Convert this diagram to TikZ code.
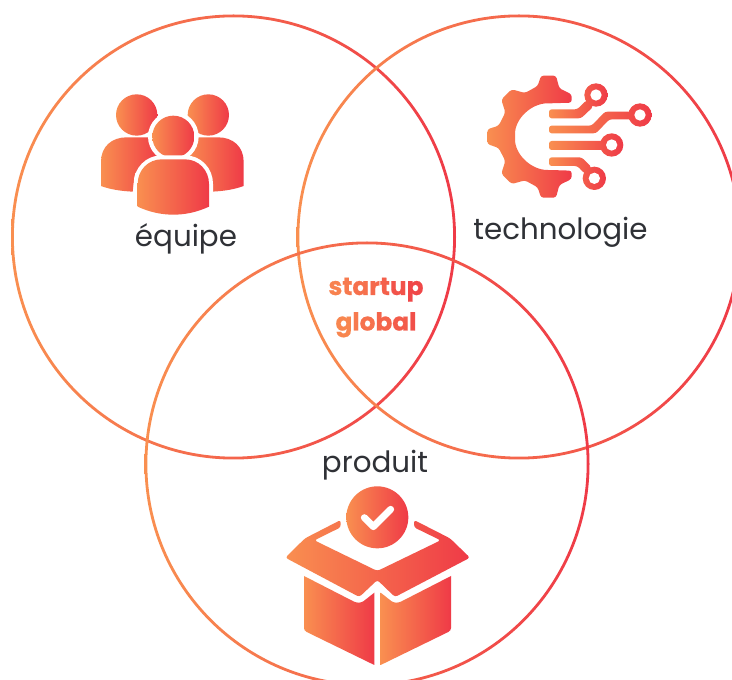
\documentclass[tikz,border=0pt]{standalone}
\usepackage{fontspec}
\setmainfont{Poppins}
\newfontfamily\corefont[BoldFeatures={FakeBold=0.7}]{Poppins}
\definecolor{cO}{HTML}{F98F50}
\definecolor{cR}{HTML}{EF3A47}
\definecolor{cT}{HTML}{2F3136}
\tikzset{
  gr/.style={left color=cO,right color=cR,draw=none},
  lab/.style={anchor=base,text=cT,font=\fontsize{22}{26}\selectfont},
  halo/.style={fill=white,draw=white,line width=6pt,line join=round},
  core/.style={anchor=base,font=\fontsize{18.6}{20}\corefont\bfseries\selectfont}
}
\newcommand{\lc}[2]{\textcolor{cR!#1!cO}{#2}}
\begin{document}
\begin{tikzpicture}[x=0.75pt,y=-0.75pt]
\useasboundingbox (0,0) rectangle (732,680);
\fill[white] (0,0) rectangle (732,680);
% Venn circles
\coordinate (ca) at (233.5,237);
\coordinate (cb) at (519,237);
\coordinate (cc) at (367,464);
\path[gr,even odd rule] (ca) circle (222.5) (ca) circle (219.7);
\path[gr,even odd rule] (cb) circle (222.5) (cb) circle (219.7);
\path[gr,even odd rule] (cc) circle (222.5) (cc) circle (219.7);
% People
\begin{scope}[shift={(80,80)},scale=1/3]
\path[gr] (170,105) circle (62);
\path[gr] (385,105) circle (62);
\path[gr] (63,318) -- (63,245) .. controls (63,200) and (95,172) .. (140,172) -- (212,172) -- (240,240) -- (165,280) -- (158,335) .. controls (120,333) and (90,328) .. (63,318) -- cycle;
\path[gr] (491,318) -- (491,245) .. controls (491,200) and (459,172) .. (414,172) -- (342,172) -- (314,240) -- (389,280) -- (396,335) .. controls (434,333) and (464,328) .. (491,318) -- cycle;
\fill[white] (280,170) circle (76);
\path[gr] (280,170) circle (63);
\def\bodyC{(173,380) -- (173,312) .. controls (173,270) and (205,238) .. (245,238) -- (315,238) .. controls (355,238) and (387,270) .. (387,312) -- (387,380) .. controls (350,397) and (315,404) .. (280,404) .. controls (245,404) and (210,397) .. (173,380) -- cycle}
\path[halo] \bodyC;
\path[gr] \bodyC;
\end{scope}
% Gear
\begin{scope}[shift={(470,60)},scale=1/3]
\path[gr,rounded corners=2pt] (305,128) -- (305,103) -- (268,85) -- (258,47) -- (213,47) -- (203,78) -- (165,99) -- (125,88) -- (94,119) -- (106,157) -- (86,197) -- (52,208) -- (52,252) -- (86,264) -- (106,303) -- (94,341) -- (125,372) -- (165,361) -- (203,382) -- (213,413) -- (258,413) -- (268,375) -- (305,357) -- (305,332) -- (240,330) .. controls (185,330) and (135,285) .. (135,230) .. controls (135,175) and (185,130) .. (240,130) -- cycle;
% traces
\begin{scope}
\clip[rounded corners=2pt] (237,148) -- (322,148) -- (350,120) -- (370,140) -- (333,175) -- (237,175) -- cycle [sharp corners] (378,105) circle (35);
\path[gr] (237,70) rectangle (413,175);
\end{scope}
\fill[white] (378,105) circle (17);
\begin{scope}
\clip[rounded corners=2pt] (237,197) -- (365,197) -- (405,155) -- (490,155) -- (490,178) -- (418,178) -- (378,220) -- (237,220) -- cycle [sharp corners] (510,165) circle (35);
\path[gr] (237,130) rectangle (545,220);
\end{scope}
\fill[white] (510,165) circle (17);
\begin{scope}
\clip[rounded corners=2pt] (237,243) -- (405,243) -- (405,270) -- (237,270) -- cycle [sharp corners] (425,255) circle (35);
\path[gr] (237,220) rectangle (460,290);
\end{scope}
\fill[white] (425,255) circle (17);
\begin{scope}
\clip[rounded corners=2pt] (237,292) -- (335,292) -- (365,322) -- (345,342) -- (322,318) -- (237,318) -- cycle [sharp corners] (373,355) circle (35);
\path[gr] (237,292) rectangle (408,390);
\end{scope}
\fill[white] (373,355) circle (17);
\end{scope}
% Box
\begin{scope}[shift={(270,470)},scale=1/3]
\path[gr] (322,142) circle (93);
\draw[white,line width=5.2pt,line cap=round,line join=round] (283,143) -- (310,170) -- (362,118);
\path[gr,rounded corners=2pt] (46,263) -- (105,205) -- (212,150) -- (212,172) -- (133,211) -- (322,303) -- (512,211) -- (432,172) -- (432,150) -- (540,205) -- (600,263) -- (375,381) -- (322,330) -- (268,381) -- cycle;
\path[gr] (313,585) [rounded corners=2pt] -- (102,482) [sharp corners] -- (102,318) [rounded corners=2pt] -- (258,398) -- (275,398) [sharp corners] -- (313,368) -- cycle;
\path[gr] (332,585) [rounded corners=2pt] -- (543,482) [sharp corners] -- (543,318) [rounded corners=2pt] -- (387,398) -- (370,398) [sharp corners] -- (332,368) -- cycle;
\end{scope}
% Labels
\node[lab] (equipe) at (186,247) {équipe};
\node[lab] (techno) at (560.5,239.5) {technologie};
\node[lab] (produit) at (375,472.5) {produit};
\node[core] (startup) at (376,295) {\lc{15}{s}\lc{25}{t}\lc{35}{a}\lc{45}{r}\lc{55}{t}\lc{70}{u}\lc{85}{p}};
\node[core] (global) at (376,330.5) {\lc{10}{g}\lc{25}{l}\lc{35}{o}\lc{50}{b}\lc{60}{a}\lc{75}{l}};
\end{tikzpicture}
\end{document}
